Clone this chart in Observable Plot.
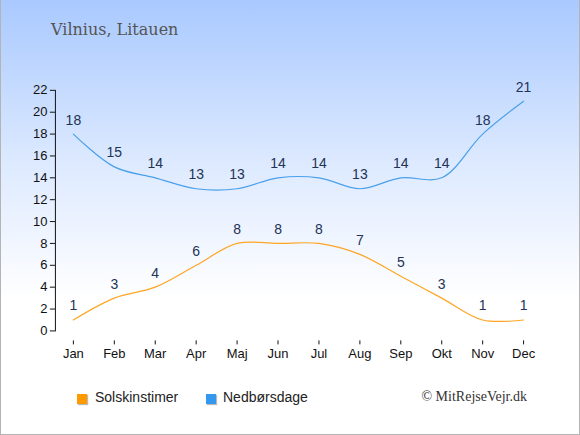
<!DOCTYPE html>
<html>
<head>
<meta charset="utf-8">
<script src="https://cdn.jsdelivr.net/npm/d3@7"></script>
<script src="https://cdn.jsdelivr.net/npm/@observablehq/plot@0.6"></script>
<style>
  html, body { margin: 0; padding: 0; }
  #wrap {
    position: relative; width: 580px; height: 435px; box-sizing: border-box;
    border: 1px solid #b4b4b4; border-top: none;
    background: linear-gradient(to bottom, #a9c9ff 0px, #dce9ff 160px, #ffffff 300px, #ffffff 435px);
    overflow: hidden;
  }
  #title {
    position: absolute; left: 50px; top: 20px; font-family: "DejaVu Serif", serif;
    font-size: 16px; color: #555;
  }
  #chart { position: absolute; left: -1px; top: 0; }
  .leg { position: absolute; top: 389px; font-family: "Liberation Sans", Arial, sans-serif; font-size: 14px; color: #222; }
  .sw { position: absolute; top: 5px; width: 10px; height: 10px; box-shadow: 1px 1px 1px #bbb; }
  #copy { position: absolute; right: 52px; top: 389px; font-family: "Liberation Serif", "Times New Roman", serif; font-size: 14px; color: #333; }
</style>
</head>
<body>
<div id="wrap">
  <div id="title">Vilnius, Litauen</div>
  <div id="chart"></div>
  <div class="leg" style="left:76px"><span class="sw" style="left:0;background:#ff9900"></span><span style="margin-left:18px">Solskinstimer</span></div>
  <div class="leg" style="left:205px"><span class="sw" style="left:0;background:#3399ee"></span><span style="margin-left:17px">Nedbørsdage</span></div>
  <div id="copy">© MitRejseVejr.dk</div>
</div>
<script>
const months = ["Jan","Feb","Mar","Apr","Maj","Jun","Jul","Aug","Sep","Okt","Nov","Dec"];
const sunshine = [1,3,4,6,8,8,8,7,5,3,1,1];
const rainDays = [18,15,14,13,13,14,14,13,14,14,18,21];
const yTicks = [0,2,4,6,8,10,12,14,16,18,20,22];

const sun = months.map((m, i) => ({month: m, value: sunshine[i]}));
const rain = months.map((m, i) => ({month: m, value: rainDays[i]}));

const font = "Liberation Sans, Arial, sans-serif";
const chart = Plot.plot({
  width: 580,
  height: 375,
  marginTop: 90,
  marginBottom: 34,
  marginLeft: 55,
  marginRight: 40,
  style: {background: "transparent", fontFamily: font, fontSize: "13px", color: "#111", overflow: "visible"},
  x: {type: "point", domain: months, padding: 0, insetLeft: 14, insetRight: 13},
  y: {domain: [0, 22], insetBottom: 10},
  marks: [
    Plot.frame({anchor: "left", insetBottom: 10, stroke: "#111"}),
    Plot.ruleY([0], {x1: months[0], x2: months[11], dy: 10, stroke: "#111"}),
    Plot.axisY({ticks: yTicks, tickSize: 5, tickPadding: 3, label: null, fontSize: 13, fill: "#111", stroke: "#111"}),
    Plot.axisX({tickSize: 4, tickPadding: 4, label: null, fontSize: 13, fill: "#111", stroke: "#111"}),
    Plot.lineY(rain, {x: "month", y: "value", stroke: "#4aa0ea", strokeWidth: 1.2, curve: "catmull-rom"}),
    Plot.lineY(sun, {x: "month", y: "value", stroke: "#ffa524", strokeWidth: 1.2, curve: "catmull-rom"}),
    Plot.text(rain, {x: "month", y: "value", text: "value", dy: -14, fill: "#223355", fontSize: 14}),
    Plot.text(sun, {x: "month", y: "value", text: "value", dy: -14, fill: "#223355", fontSize: 14})
  ]
});
document.getElementById("chart").appendChild(chart);
</script>
</body>
</html>
